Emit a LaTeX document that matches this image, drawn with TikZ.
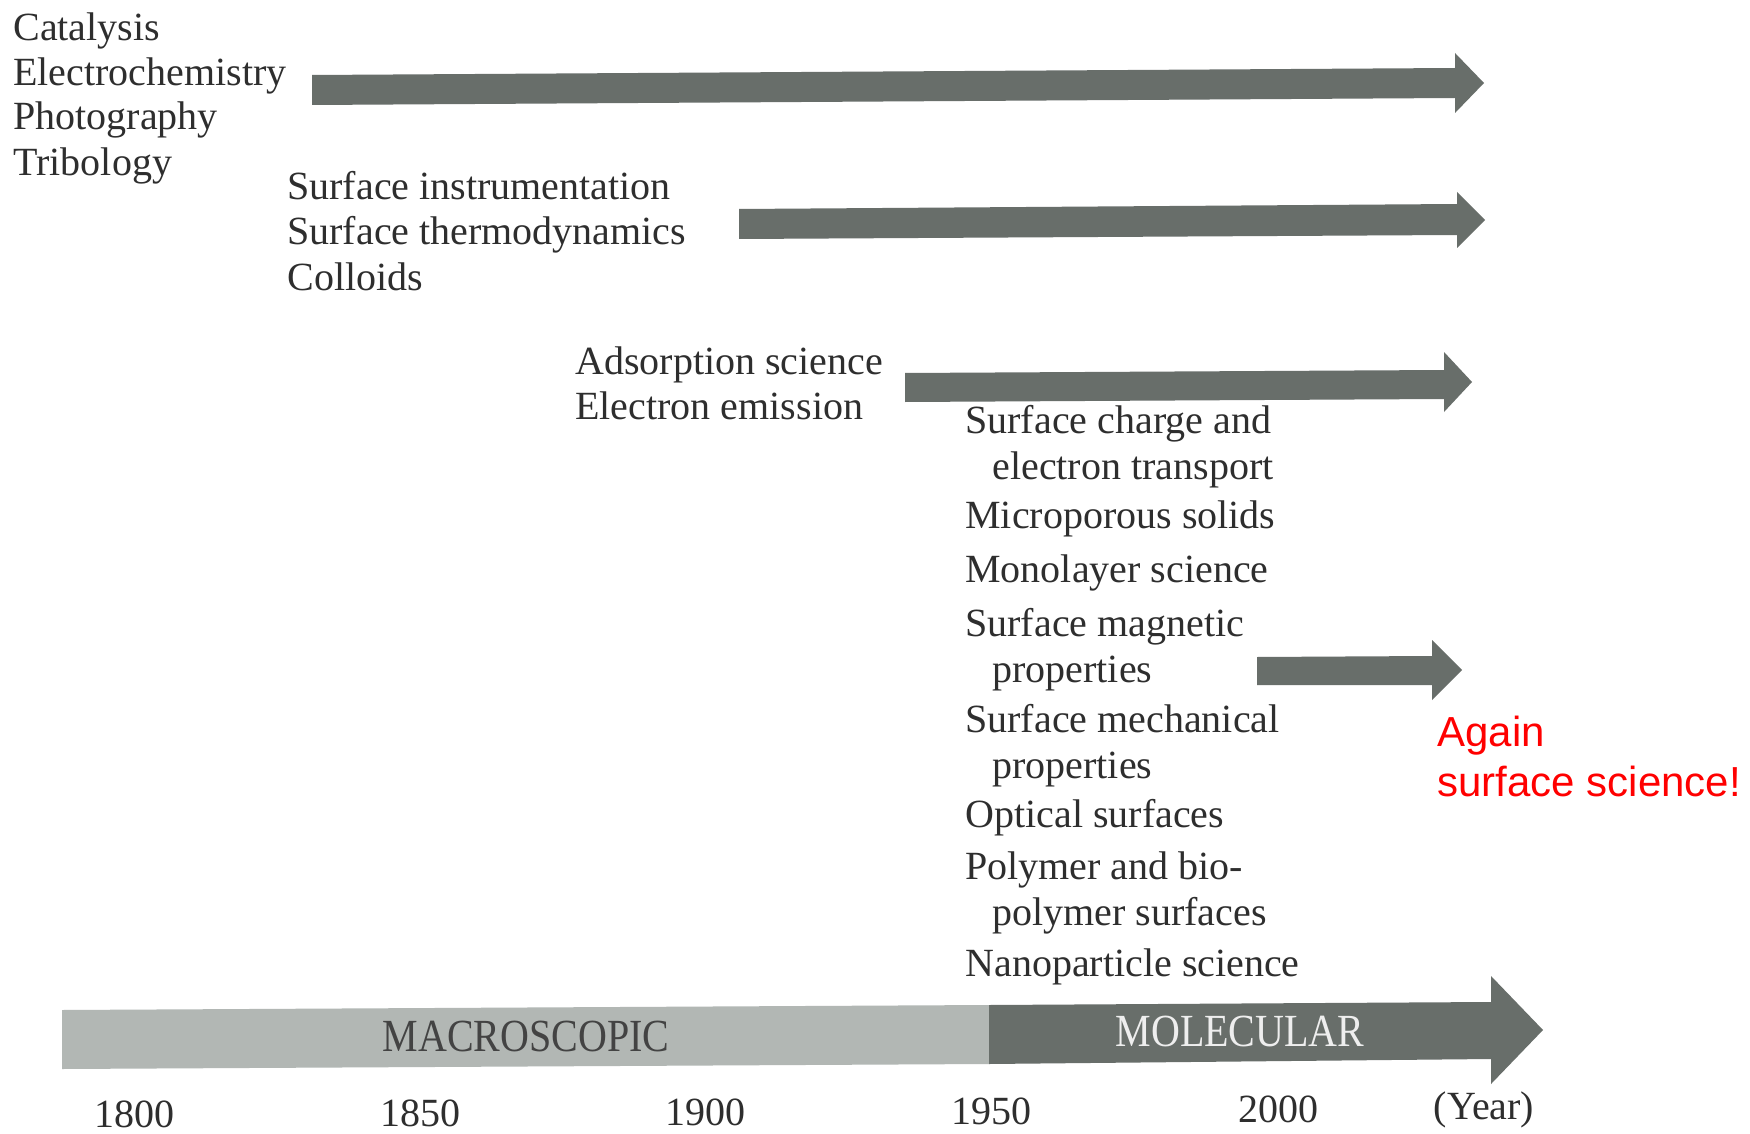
\documentclass[tikz,border=0pt]{standalone}
\usepackage{fontspec}
\setmainfont{Liberation Serif}
\newfontfamily\redfont{Liberation Sans}
\definecolor{ink}{HTML}{2E2E2E}
\definecolor{arrowdark}{HTML}{686E6A}
\definecolor{arrowlight}{HTML}{B2B7B4}
\definecolor{moltext}{HTML}{EEEEEE}
\definecolor{redtxt}{HTML}{FF0000}
\begin{document}
\begin{tikzpicture}[x=0.5pt,y=-0.5pt,
  txt/.style={anchor=base west,inner sep=0pt,font=\fontsize{20}{24}\selectfont,text=ink},
  yearlbl/.style={anchor=base,inner sep=0pt,font=\fontsize{20}{24}\selectfont,text=ink},
  redlbl/.style={anchor=base west,inner sep=0pt,font=\redfont\fontsize{21}{25}\selectfont,text=redtxt},
  darkarrow/.style={fill=arrowdark},
  lightarrow/.style={fill=arrowlight}]
\useasboundingbox[fill=white] (0,0) rectangle (1750,1134);

% arrows
\fill[darkarrow] (312,75) -- (1455,68) -- (1455,53) -- (1484,83) -- (1455,113) -- (1455,98) -- (312,105) -- cycle;
\fill[darkarrow] (739,209) -- (1457,204) -- (1457,192) -- (1485,220) -- (1457,248) -- (1457,235) -- (739,239) -- cycle;
\fill[darkarrow] (905,373) -- (1444,370) -- (1444,352) -- (1472,382) -- (1444,412) -- (1444,399) -- (905,402) -- cycle;
\fill[darkarrow] (1257,657) -- (1432,656) -- (1432,640) -- (1462,670) -- (1432,700) -- (1432,685) -- (1257,685) -- cycle;
% time axis
\fill[lightarrow] (62,1010) -- (989,1005) -- (989,1064) -- (62,1069) -- cycle;
\fill[darkarrow] (989,1005) -- (1491,1002) -- (1491,976) -- (1543,1030) -- (1491,1084) -- (1491,1059) -- (989,1064) -- cycle;

% block 1
\node[txt] (cat) at (13,41) {Catalysis};
\node[txt] (ele) at (13,86) {Electrochemistry};
\node[txt] (pho) at (13,130) {Photography};
\node[txt] (tri) at (13,176) {Tribology};
% block 2
\node[txt] (sin) at (287,200) {Surface instrumentation};
\node[txt] (sth) at (287,245) {Surface thermodynamics};
\node[txt] (col) at (287,291) {Colloids};
% block 3
\node[txt] (ads) at (575,374) {Adsorption science};
\node[txt] (eem) at (575,419) {Electron emission};
% block 4
\node[txt] (sc1) at (965,433) {Surface charge and};
\node[txt] (sc2) at (992,479) {electron transport};
\node[txt] (mic) at (965,528) {Microporous solids};
\node[txt] (mon) at (965,582) {Monolayer science};
\node[txt] (sm1) at (965,636) {Surface magnetic};
\node[txt] (sm2) at (992,682) {properties};
\node[txt] (me1) at (965,732) {Surface mechanical};
\node[txt] (me2) at (992,778) {properties};
\node[txt] (opt) at (965,827) {Optical surfaces};
\node[txt] (po1) at (965,879) {Polymer and bio-};
\node[txt] (po2) at (992,925) {polymer surfaces};
\node[txt] (nan) at (965,976) {Nanoparticle science};

% red remark
\node[redlbl] (ag1) at (1437,746) {Again};
\node[redlbl] (ag2) at (1437,796) {surface science!};

% axis labels
\node[anchor=base,inner sep=0pt,font=\fontsize{20}{24}\selectfont,text=ink!90] (macro) at (526,1051) {\scalebox{1}[1.15]{MACROSCOPIC}};
\node[anchor=base,inner sep=0pt,font=\fontsize{20}{24}\selectfont,text=moltext] (molec) at (1240,1046) {\scalebox{1}[1.15]{MOLECULAR}};

% years
\node[yearlbl] (y1800) at (134,1127) {1800};
\node[yearlbl] (y1850) at (420,1126) {1850};
\node[yearlbl] (y1900) at (705,1125) {1900};
\node[yearlbl] (y1950) at (991,1124) {1950};
\node[yearlbl] (y2000) at (1278,1122) {2000};
\node[yearlbl] (year) at (1484,1119) {(Year)};
\end{tikzpicture}
\end{document}
